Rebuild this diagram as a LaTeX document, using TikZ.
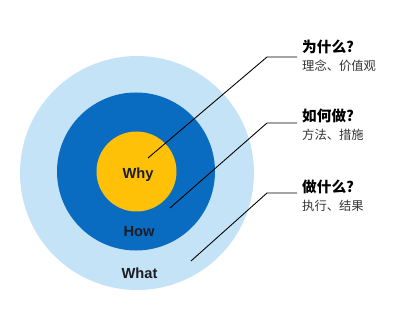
\documentclass[tikz,border=0pt]{standalone}
\usepackage{fontspec}
\setmainfont{Liberation Sans}
\newfontfamily\cjk{Noto Sans CJK SC}
\usetikzlibrary{positioning}

\definecolor{ringlight}{HTML}{C5E3F7}
\definecolor{ringblue}{HTML}{0A6CC1}
\definecolor{coreyellow}{HTML}{FFC107}
\definecolor{inkdark}{HTML}{1C1C24}

\begin{document}
\begin{tikzpicture}[
  x=0.03cm, y=-0.03cm,
  ring/.style={circle, draw=none, inner sep=0pt},
  word/.style={font=\fontsize{12.5}{14}\selectfont\bfseries, text=inkdark, inner sep=0pt},
  head/.style={font=\cjk\fontsize{12.5}{14}\selectfont\bfseries, text=black, inner sep=0pt, anchor=west},
  sub/.style={font=\cjk\fontsize{10.5}{12}\selectfont, text=black!80, inner sep=0pt},
  lead/.style={draw=black, line width=0.75pt}
]
\useasboundingbox (0,0) rectangle (420,319);
% rings
\node[ring, fill=ringlight, minimum size=7.02cm] (what) at (137,173) {};
\node[ring, fill=ringblue, minimum size=4.74cm] (how) at (136,171.5) {};
\node[ring, fill=coreyellow, minimum size=2.4cm] (why) at (136.5,171.5) {};

\node[word] (lwhy) at (138,175) {Why};
\node[word] (lhow) at (139,232) {How};
\node[word] (lwhat) at (139.5,273) {What};

% captions
\node[head] (h1) at (302,47) {为什么?};
\node[sub, below=5pt of h1.south west, anchor=north west] (s1) {理念、价值观};
\node[head] (h2) at (302,116) {如何做?};
\node[sub, below=5pt of h2.south west, anchor=north west] (s2) {方法、措施};
\node[head] (h3) at (302,187) {做什么?};
\node[sub, below=5pt of h3.south west, anchor=north west] (s3) {执行、结果};

% leaders
\coordinate (t1) at (148,158);
\coordinate (k1) at (267,57);
\coordinate (e1) at (297,57);
\coordinate (t2) at (170,208);
\coordinate (k2) at (267,123);
\coordinate (e2) at (297,123);
\coordinate (t3) at (191,261);
\coordinate (k3) at (267,193);
\coordinate (e3) at (297,193);
\draw[lead] (t1) -- (k1) -- (e1);
\draw[lead] (t2) -- (k2) -- (e2);
\draw[lead] (t3) -- (k3) -- (e3);
\end{tikzpicture}
\end{document}
